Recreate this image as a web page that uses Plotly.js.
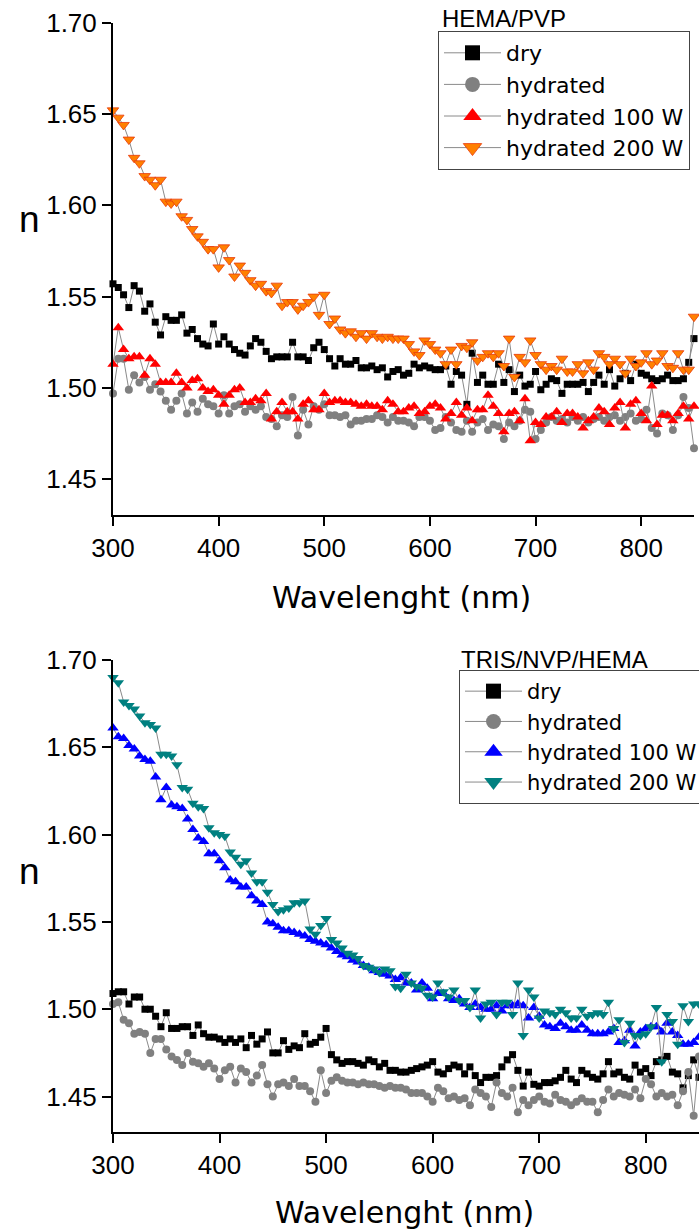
<!DOCTYPE html>
<html>
<head>
<meta charset="utf-8">
<script src="https://cdn.plot.ly/plotly-3.0.1.min.js"></script>
<style>html,body{margin:0;padding:0;background:#fff;}#chart{width:699px;height:1229px;}</style>
</head>
<body>
<div id="chart"></div>
<script>
const wavelength = [300,305,310,315,320,325,330,335,340,345,350,355,360,365,370,375,380,385,390,395,400,405,410,415,420,425,430,435,440,445,450,455,460,465,470,475,480,485,490,495,500,505,510,515,520,525,530,535,540,545,550,555,560,565,570,575,580,585,590,595,600,605,610,615,620,625,630,635,640,645,650,655,660,665,670,675,680,685,690,695,700,705,710,715,720,725,730,735,740,745,750,755,760,765,770,775,780,785,790,795,800,805,810,815,820,825,830,835,840,845,850];
const seriesNames = ["dry", "hydrated", "hydrated 100 W", "hydrated 200 W"];
const panelTitles = ["HEMA/PVP", "TRIS/NVP/HEMA"];
const xTitle = "Wavelenght (nm)";
const yTitle = "n";

const hemaDry = [1.557,1.555,1.551,1.544,1.556,1.553,1.542,1.546,1.536,1.529,
1.539,1.537,1.537,1.540,1.530,1.532,1.527,1.524,1.523,1.535,
1.524,1.528,1.524,1.521,1.519,1.518,1.523,1.527,1.525,1.520,
1.516,1.517,1.517,1.517,1.525,1.517,1.517,1.515,1.522,1.525,
1.521,1.516,1.512,1.516,1.513,1.513,1.515,1.511,1.511,1.512,
1.510,1.511,1.506,1.509,1.510,
1.507,1.508,1.513,1.511,1.512,1.511,1.510,1.510,1.512,1.502,
1.509,1.507,1.491,1.519,1.503,1.507,1.502,1.502,1.513,1.503,
1.510,1.498,1.507,1.501,1.502,1.509,1.499,1.502,1.505,1.504,
1.497,1.502,1.502,1.502,1.503,1.498,1.503,1.507,1.502,1.510,
1.501,1.505,1.508,1.504,1.513,1.508,1.507,1.505,1.504,1.505,
1.507,1.504,1.504,1.505,1.514,1.527];
const hemaHyd = [1.497,1.516,1.516,1.499,1.507,1.503,1.506,1.499,1.502,1.498,
1.493,1.488,1.493,1.497,1.486,1.492,1.487,1.494,1.491,1.490,
1.486,1.496,1.486,1.490,1.491,1.487,1.490,1.488,1.490,1.484,
1.483,1.479,1.485,1.484,1.495,1.474,1.488,1.480,1.490,1.488,
1.491,1.485,1.485,1.484,1.485,1.480,1.482,1.482,1.483,1.483,
1.485,1.484,1.481,1.484,1.482,
1.482,1.481,1.479,1.484,1.484,1.482,1.477,1.478,1.484,1.481,
1.477,1.476,1.482,1.476,1.481,1.483,1.477,1.480,1.479,1.472,
1.481,1.479,1.482,1.488,1.487,1.472,1.477,1.481,1.484,1.482,
1.483,1.481,1.484,1.482,1.484,1.481,1.483,1.484,1.482,1.484,
1.485,1.482,1.484,1.486,1.482,1.483,1.488,1.478,1.475,1.486,
1.485,1.477,1.485,1.495,1.489,1.467];
const hema100 = [1.513,1.533,1.521,1.516,1.517,1.517,1.507,1.516,1.513,1.503,
1.503,1.503,1.508,1.503,1.500,1.504,1.505,1.500,1.498,1.499,
1.496,1.491,1.496,1.499,1.500,1.492,1.492,1.494,1.493,1.497,
1.483,1.487,1.492,1.487,1.487,1.483,1.491,1.493,1.488,1.488,
1.497,1.492,1.493,1.493,1.492,1.492,1.491,1.490,1.491,1.490,
1.490,1.488,1.493,1.491,1.487,
1.487,1.489,1.490,1.486,1.487,1.490,1.491,1.489,1.483,1.486,
1.492,1.485,1.489,1.482,1.488,1.488,1.496,1.490,1.486,1.476,
1.486,1.487,1.482,1.494,1.471,1.481,1.480,1.484,1.484,1.487,
1.481,1.486,1.486,1.484,1.478,1.482,1.484,1.489,1.487,1.480,
1.489,1.492,1.478,1.491,1.493,1.486,1.482,1.501,1.480,1.485,
1.485,1.482,1.486,1.490,1.483,1.490];
const hema200 = [1.652,1.648,1.644,1.636,1.626,1.623,1.616,1.614,1.611,1.614,
1.602,1.601,1.602,1.594,1.592,1.587,1.583,1.580,1.576,1.576,
1.566,1.577,1.570,1.561,1.567,1.563,1.559,1.556,1.557,1.553,
1.552,1.556,1.545,1.547,1.547,1.543,1.545,1.547,1.550,1.540,
1.551,1.535,1.538,1.532,1.530,1.531,1.528,1.530,1.527,1.530,
1.528,1.527,1.528,1.527,1.527,
1.527,1.524,1.520,1.518,1.526,1.524,1.521,1.519,1.513,1.521,
1.513,1.523,1.522,1.525,1.515,1.517,1.519,1.517,1.519,1.512,
1.527,1.506,1.517,1.514,1.526,1.518,1.513,1.510,1.512,1.510,
1.516,1.509,1.509,1.513,1.508,1.514,1.510,1.519,1.517,1.513,
1.516,1.513,1.508,1.516,1.512,1.514,1.519,1.513,1.515,1.519,
1.512,1.511,1.519,1.510,1.510,1.539];

const trisDry = [1.509,1.510,1.510,1.503,1.507,1.507,1.500,1.500,1.496,1.490,
1.498,1.489,1.489,1.490,1.490,1.485,1.491,1.486,1.484,1.484,
1.483,1.481,1.483,1.481,1.483,1.478,1.485,1.480,1.483,1.487,
1.475,1.475,1.482,1.477,1.479,1.478,1.486,1.480,1.481,1.484,
1.489,1.474,1.471,1.469,1.470,1.470,1.469,1.468,1.471,1.470,
1.467,1.469,1.465,1.465,
1.464,1.464,1.465,1.466,1.467,1.468,1.470,1.464,1.463,1.466,
1.468,1.467,1.463,1.467,1.462,1.458,1.461,1.461,1.462,1.467,
1.471,1.474,1.465,1.456,1.464,1.457,1.456,1.458,1.458,1.459,
1.461,1.465,1.460,1.458,1.465,1.463,1.461,1.460,1.463,1.470,
1.463,1.464,1.461,1.460,1.468,1.464,1.466,1.462,1.470,1.471,
1.473,1.464,1.463,1.455,1.462,1.471,1.461];
const trisHyd = [1.503,1.504,1.494,1.492,1.486,1.487,1.486,1.475,1.483,1.483,
1.477,1.473,1.471,1.468,1.475,1.470,1.469,1.467,1.469,1.466,
1.460,1.465,1.467,1.458,1.466,1.464,1.458,1.462,1.468,1.457,
1.450,1.457,1.458,1.456,1.460,1.456,1.456,1.453,1.447,1.465,
1.452,1.459,1.461,1.459,1.458,1.458,1.457,1.458,1.457,1.457,
1.456,1.455,1.456,1.455,
1.455,1.454,1.452,1.452,1.452,1.450,1.447,1.455,1.453,1.449,
1.450,1.448,1.449,1.445,1.454,1.452,1.450,1.444,1.458,1.452,
1.450,1.455,1.441,1.448,1.445,1.448,1.450,1.447,1.446,1.451,
1.448,1.447,1.445,1.447,1.449,1.447,1.447,1.441,1.448,1.454,
1.450,1.452,1.451,1.450,1.454,1.449,1.460,1.457,1.450,1.452,
1.450,1.451,1.445,1.453,1.464,1.439,1.473];
const tris100 = [1.661,1.656,1.655,1.651,1.649,1.645,1.643,1.642,1.633,1.620,
1.627,1.617,1.616,1.615,1.609,1.603,1.598,1.596,1.589,1.589,
1.585,1.581,1.574,1.573,1.570,1.570,1.565,1.562,1.560,1.550,
1.549,1.547,1.545,1.545,1.544,1.543,1.542,1.540,1.539,1.538,
1.537,1.535,1.533,1.531,1.530,1.528,1.527,1.525,1.524,1.522,
1.521,1.520,1.519,1.517,
1.518,1.515,1.515,1.511,1.515,1.512,1.506,1.509,1.509,1.506,
1.505,1.506,1.503,1.501,1.503,1.501,1.500,1.500,1.502,1.499,
1.502,1.502,1.503,1.502,1.495,1.501,1.496,1.491,1.490,1.489,
1.492,1.490,1.488,1.488,1.491,1.488,1.486,1.486,1.486,1.487,
1.489,1.481,1.482,1.488,1.479,1.487,1.489,1.490,1.490,1.487,
1.492,1.487,1.485,1.480,1.480,1.481,1.484];
const tris200 = [1.690,1.687,1.676,1.674,1.672,1.668,1.664,1.663,1.661,1.646,
1.646,1.645,1.640,1.627,1.626,1.618,1.616,1.615,1.604,1.601,
1.600,1.599,1.590,1.587,1.583,1.585,1.578,1.573,1.573,1.567,
1.560,1.556,1.557,1.558,1.561,1.561,1.562,1.546,1.543,1.548,
1.552,1.540,1.538,1.535,1.532,1.531,1.529,1.525,1.524,1.523,
1.521,1.523,1.522,1.513,
1.512,1.520,1.515,1.513,1.512,1.508,1.507,1.515,1.510,1.507,
1.511,1.505,1.505,1.501,1.511,1.495,1.503,1.504,1.497,1.504,
1.504,1.497,1.515,1.485,1.511,1.507,1.495,1.499,1.498,1.497,
1.500,1.498,1.495,1.495,1.500,1.496,1.497,1.498,1.497,1.504,
1.489,1.494,1.481,1.492,1.485,1.485,1.486,1.490,1.501,1.470,
1.497,1.493,1.480,1.502,1.493,1.503,1.503];

const W = 699, H = 1229;
const FONT = "Liberation Sans, Arial, sans-serif";
const WIDE = "DejaVu Sans, sans-serif";
const lineStyle = {color: "#8a8a8a", width: 1};

const styles = [
  {symbol: "square", color: "#000000"},
  {symbol: "circle", color: "#808080"},
  {symbol: "triangle-up", color: "#FF0000"},
  {symbol: "triangle-down", color: "#FF8000", line: {color: "#E8380A", width: 0.8}},
  {symbol: "square", color: "#000000"},
  {symbol: "circle", color: "#808080"},
  {symbol: "triangle-up", color: "#0000FF"},
  {symbol: "triangle-down", color: "#008080"}
];
const plotSizes = [7, 8, 10, 10];
const legendSizes = [15, 15, 16, 16];

const panels = [
  {data: [hemaDry, hemaHyd, hema100, hema200], xa: "x", ya: "y", leg: "legend"},
  {data: [trisDry, trisHyd, tris100, tris200], xa: "x2", ya: "y2", leg: "legend2"}
];

const traces = [];
panels.forEach((p, pi) => {
  p.data.forEach((y, i) => {
    const st = styles[pi * 4 + i];
    traces.push({x: wavelength, y: y, name: seriesNames[i], type: "scatter", mode: "lines+markers",
      xaxis: p.xa, yaxis: p.ya, showlegend: false, line: lineStyle, cliponaxis: false,
      marker: Object.assign({}, st, {size: plotSizes[i]})});
  });
});
// legend entries (legend symbols only, larger as in the original)
panels.forEach((p, pi) => {
  seriesNames.forEach((nm, i) => {
    const st = styles[pi * 4 + i];
    traces.push({x: [null], y: [null], name: nm, type: "scatter", mode: "lines+markers",
      xaxis: p.xa, yaxis: p.ya, legend: p.leg, showlegend: true, line: lineStyle,
      marker: Object.assign({}, st, {size: legendSizes[i]})});
  });
});

const px = v => v / W;
const py = v => 1 - v / H;

const xBase = {range: [300, 850], tick0: 300, dtick: 100, showline: true, linecolor: "#000", linewidth: 2,
  ticks: "outside", ticklen: 9, tickwidth: 2, tickcolor: "#000", showgrid: false, zeroline: false,
  tickfont: {family: FONT, size: 26, color: "#000"}, fixedrange: true};
const yBase = {tick0: 1.45, dtick: 0.05, tickformat: ".2f", showline: true, linecolor: "#000", linewidth: 2,
  ticks: "outside", ticklen: 9, tickwidth: 2, tickcolor: "#000", showgrid: false, zeroline: false,
  tickfont: {family: FONT, size: 26, color: "#000"}, fixedrange: true};

const legBase = {xanchor: "left", yanchor: "top", bgcolor: "#fff", bordercolor: "#444", borderwidth: 1,
  itemsizing: "trace", tracegroupgap: 0, itemwidth: 57};

const layout = {
  width: W, height: H,
  margin: {l: 0, r: 0, t: 0, b: 0, autoexpand: false},
  paper_bgcolor: "#fff", plot_bgcolor: "#fff",
  showlegend: true,
  xaxis: Object.assign({}, xBase, {domain: [px(113), px(694)], anchor: "y"}),
  yaxis: Object.assign({}, yBase, {domain: [py(515), py(22.7)], range: [1.4304, 1.70], anchor: "x"}),
  xaxis2: Object.assign({}, xBase, {domain: [px(113), 1], anchor: "y2"}),
  yaxis2: Object.assign({}, yBase, {domain: [py(1132), py(660)], range: [1.4297, 1.70], anchor: "x2"}),
  legend: Object.assign({}, legBase, {x: px(438), y: py(31), font: {family: WIDE, size: 22, color: "#000"}}),
  legend2: Object.assign({}, legBase, {x: px(459), y: py(670), font: {family: WIDE, size: 21, color: "#000"}}),
  annotations: [
    {text: panelTitles[0], xref: "paper", yref: "paper", x: px(440), y: py(19), xanchor: "left", yanchor: "middle", showarrow: false, font: {family: FONT, size: 24, color: "#000"}},
    {text: panelTitles[1], xref: "paper", yref: "paper", x: px(459), y: py(659), xanchor: "left", yanchor: "middle", showarrow: false, font: {family: FONT, size: 24, color: "#000"}},
    {text: yTitle, xref: "paper", yref: "paper", x: px(29), y: py(220), xanchor: "center", yanchor: "middle", showarrow: false, font: {family: FONT, size: 37, color: "#000"}},
    {text: yTitle, xref: "paper", yref: "paper", x: px(29), y: py(871), xanchor: "center", yanchor: "middle", showarrow: false, font: {family: FONT, size: 37, color: "#000"}},
    {text: xTitle, xref: "paper", yref: "paper", x: px(401), y: py(598), xanchor: "center", yanchor: "middle", showarrow: false, font: {family: WIDE, size: 30, color: "#000"}},
    {text: xTitle, xref: "paper", yref: "paper", x: px(404), y: py(1212), xanchor: "center", yanchor: "middle", showarrow: false, font: {family: WIDE, size: 30, color: "#000"}}
  ]
};

Plotly.newPlot("chart", traces, layout, {displayModeBar: false, staticPlot: true});
</script>
</body>
</html>
